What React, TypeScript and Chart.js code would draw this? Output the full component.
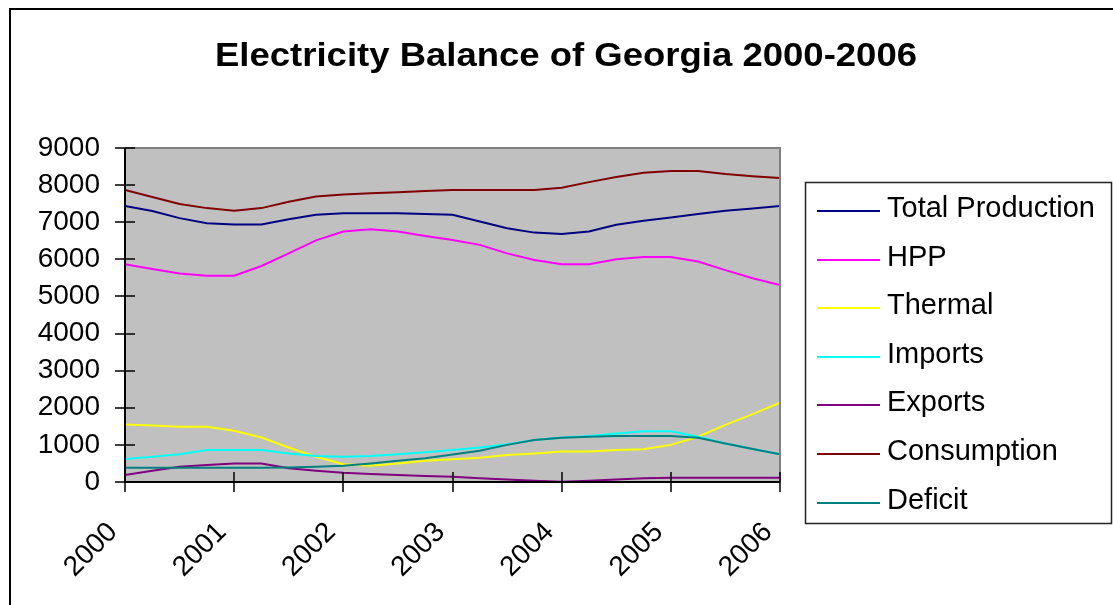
import React, { useEffect, useRef } from "react";
import { Chart, registerables } from "chart.js";

Chart.register(...registerables);

const TITLE = "Electricity Balance of Georgia 2000-2006";

const QUARTERS = [
  2000, 2000.25, 2000.5, 2000.75,
  2001, 2001.25, 2001.5, 2001.75,
  2002, 2002.25, 2002.5, 2002.75,
  2003, 2003.25, 2003.5, 2003.75,
  2004, 2004.25, 2004.5, 2004.75,
  2005, 2005.25, 2005.5, 2005.75,
  2006,
];

const Y_TICKS = [0, 1000, 2000, 3000, 4000, 5000, 6000, 7000, 8000, 9000];
const X_TICKS = [2000, 2001, 2002, 2003, 2004, 2005, 2006];

const TOTAL_PRODUCTION = [7440, 7300, 7110, 6970, 6940, 6940, 7080, 7200, 7240, 7240, 7240, 7220, 7200, 7020, 6840, 6720, 6680, 6750, 6930, 7040, 7130, 7220, 7310, 7370, 7440];
const HPP = [5870, 5740, 5620, 5560, 5560, 5820, 6160, 6510, 6750, 6810, 6750, 6630, 6520, 6390, 6160, 5980, 5870, 5870, 6000, 6060, 6060, 5940, 5710, 5490, 5310];
const THERMAL = [1550, 1520, 1490, 1490, 1380, 1200, 930, 680, 480, 440, 500, 570, 610, 655, 730, 770, 820, 820, 860, 880, 1000, 1220, 1540, 1830, 2140];
const IMPORTS = [620, 680, 745, 860, 860, 860, 770, 700, 680, 700, 745, 800, 860, 930, 1020, 1130, 1200, 1240, 1310, 1370, 1370, 1220, 1040, 890, 745];
const EXPORTS = [190, 305, 410, 460, 500, 500, 370, 305, 250, 215, 190, 160, 140, 100, 70, 35, 10, 35, 70, 100, 115, 115, 115, 115, 115];
const CONSUMPTION = [7870, 7680, 7490, 7380, 7310, 7380, 7550, 7690, 7750, 7780, 7810, 7840, 7870, 7870, 7870, 7870, 7930, 8080, 8220, 8330, 8380, 8380, 8300, 8240, 8190];
const DEFICIT = [385, 385, 385, 385, 385, 385, 390, 410, 440, 500, 575, 640, 740, 845, 1000, 1130, 1195, 1220, 1240, 1240, 1240, 1195, 1040, 890, 745];

const SERIES_NAMES = ["Total Production", "HPP", "Thermal", "Imports", "Exports", "Consumption", "Deficit"];
const SERIES_VALUES = [TOTAL_PRODUCTION, HPP, THERMAL, IMPORTS, EXPORTS, CONSUMPTION, DEFICIT];
const SERIES_COLORS = ["#000080", "#FF00FF", "#FFFF00", "#00FFFF", "#800080", "#800000", "#008080"];

const FONT = '"Liberation Sans", Arial, Helvetica, sans-serif';

const decorPlugin = {
  id: "decor",
  beforeDraw(chart: any) {
    const { ctx, chartArea: a } = chart;
    ctx.save();
    ctx.fillStyle = "#ffffff";
    ctx.fillRect(0, 0, chart.width, chart.height);
    // outer frame
    ctx.strokeStyle = "#000";
    ctx.lineWidth = 2;
    ctx.beginPath();
    ctx.moveTo(10, chart.height + 5);
    ctx.lineTo(10, 9);
    ctx.lineTo(chart.width + 5, 9);
    ctx.stroke();
    // plot background
    ctx.fillStyle = "#C0C0C0";
    ctx.fillRect(a.left, a.top, a.right - a.left, a.bottom - a.top);
    // title
    ctx.fillStyle = "#000";
    ctx.font = `bold 34px ${FONT}`;
    ctx.textAlign = "center";
    ctx.textBaseline = "alphabetic";
    const w = ctx.measureText(TITLE).width;
    const sx = 702 / w;
    ctx.translate(566, 66);
    ctx.scale(sx, 1);
    ctx.fillText(TITLE, 0, 0);
    ctx.restore();
  },
  afterDatasetsDraw(chart: any) {
    const { ctx, chartArea: a, scales } = chart;
    ctx.save();
    ctx.lineWidth = 2;
    ctx.strokeStyle = "#808080";
    ctx.beginPath();
    ctx.moveTo(a.left, a.top);
    ctx.lineTo(a.right, a.top);
    ctx.lineTo(a.right, a.bottom);
    ctx.stroke();
    ctx.strokeStyle = "#000";
    ctx.beginPath();
    ctx.moveTo(a.left, a.top);
    ctx.lineTo(a.left, a.bottom);
    ctx.lineTo(a.right, a.bottom);
    ctx.stroke();
    ctx.lineWidth = 1.5;
    ctx.beginPath();
    for (const t of Y_TICKS) {
      const y = Math.round(scales.y.getPixelForValue(t));
      ctx.moveTo(a.left - 10, y);
      ctx.lineTo(a.left + 10, y);
    }
    for (const t of X_TICKS) {
      const x = Math.round(scales.x.getPixelForValue(t));
      ctx.moveTo(x, a.bottom - 10);
      ctx.lineTo(x, a.bottom + 10);
    }
    ctx.stroke();
    ctx.restore();
  },
  afterDraw(chart: any) {
    const { ctx } = chart;
    ctx.save();
    ctx.strokeStyle = "#222";
    ctx.lineWidth = 1.5;
    ctx.strokeRect(805.5, 182.5, 306, 341);
    ctx.font = `29px ${FONT}`;
    ctx.textAlign = "left";
    ctx.textBaseline = "alphabetic";
    ctx.fillStyle = "#000";
    SERIES_NAMES.forEach((name, i) => {
      const y = 211 + i * 48.6;
      ctx.strokeStyle = SERIES_COLORS[i];
      ctx.lineWidth = 2;
      ctx.beginPath();
      ctx.moveTo(817, Math.round(y));
      ctx.lineTo(880, Math.round(y));
      ctx.stroke();
      ctx.fillText(name, 887, y + 6);
    });
    ctx.restore();
  },
};

export default function App() {
  const ref = useRef<HTMLCanvasElement>(null);
  useEffect(() => {
    const chart = new Chart(ref.current as HTMLCanvasElement, {
      type: "line",
      data: {
        datasets: SERIES_NAMES.map((name, i) => ({
          label: name,
          data: QUARTERS.map((x, j) => ({ x, y: SERIES_VALUES[i][j] })),
          borderColor: SERIES_COLORS[i],
          backgroundColor: SERIES_COLORS[i],
          borderWidth: 2,
          pointRadius: 0,
          tension: 0,
          fill: false,
          order: 10 - i,
        })),
      },
      options: {
        responsive: false,
        animation: false,
        events: [],
        layout: { padding: { left: 12, top: 148, right: 333, bottom: 0 } },
        plugins: {
          legend: { display: false },
          title: { display: false },
          tooltip: { enabled: false },
        },
        scales: {
          x: {
            type: "linear",
            min: 2000,
            max: 2006,
            grid: { display: false, drawTicks: false },
            border: { display: false },
            ticks: {
              stepSize: 1,
              autoSkip: false,
              minRotation: 45,
              maxRotation: 45,
              padding: 34,
              labelOffset: -12,
              color: "#000",
              font: { family: FONT, size: 28 },
              callback: (v: any) => String(v),
            },
            afterFit: (s: any) => {
              s.height = 123;
            },
          },
          y: {
            min: 0,
            max: 9000,
            grid: { display: false, drawTicks: false },
            border: { display: false },
            ticks: {
              stepSize: 1000,
              padding: 25,
              color: "#000",
              font: { family: FONT, size: 28 },
              callback: (v: any) => String(v),
            },
            afterFit: (s: any) => {
              s.width = 113;
            },
          },
        },
      },
      plugins: [decorPlugin],
    } as any);
    return () => chart.destroy();
  }, []);
  return (
    <div style={{ position: "fixed", left: 0, top: 0, width: 1113, height: 605, background: "#fff" }}>
      <canvas ref={ref} width={1113} height={605} style={{ display: "block", width: 1113, height: 605 }} />
    </div>
  );
}
